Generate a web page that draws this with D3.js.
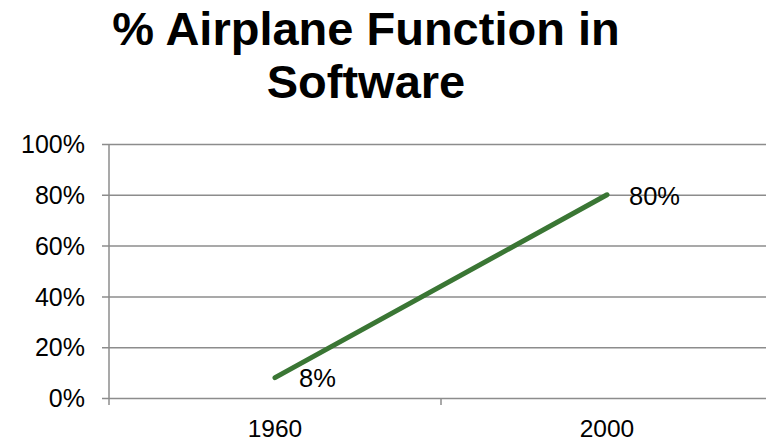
<!DOCTYPE html>
<html>
<head>
<meta charset="utf-8">
<script src="https://cdn.jsdelivr.net/npm/d3@7/dist/d3.min.js"></script>
<style>
  html, body { margin: 0; padding: 0; background: #fff; }
  svg { display: block; font-family: "Liberation Sans", Arial, sans-serif; }
</style>
</head>
<body>
<svg id="chart" width="766" height="443"></svg>
<script>
(function () {
  "use strict";

  const titleLines = ["% Airplane Function in", "Software"];
  const years = ["1960", "2000"];
  const share = [0.08, 0.80];
  const yTicks = [0, 0.2, 0.4, 0.6, 0.8, 1.0];

  const svg = d3.select("#chart");
  const W = 766;
  const axisX = 109;

  // plot area runs past the right edge, the second band is cut off
  const x = d3.scaleBand().domain(years).range([axisX, 773]).padding(0);
  const y = d3.scaleLinear().domain([0, 1]).range([398, 144]);
  const fmt = d3.format(".0%");

  // title
  svg.append("g").selectAll("text")
    .data(titleLines)
    .join("text")
    .attr("x", 366)
    .attr("y", (d, i) => 45 + i * 53)
    .attr("text-anchor", "middle")
    .attr("font-weight", "bold")
    .attr("font-size", 47)
    .attr("fill", "#000")
    .text((d) => d);

  // gridlines + y labels
  const yAxis = d3.axisLeft(y)
    .tickValues(yTicks)
    .tickFormat(fmt)
    .tickSize(-(W - axisX))
    .tickPadding(16);
  const gy = svg.append("g").attr("transform", `translate(${axisX},0)`).call(yAxis);
  gy.select(".domain").remove();
  gy.selectAll(".tick line")
    .attr("x1", -7)
    .attr("stroke", "#8c8c8c")
    .attr("stroke-width", 1.5);
  gy.selectAll(".tick text")
    .attr("font-size", 25)
    .attr("font-family", "Liberation Sans, Arial, sans-serif")
    .attr("fill", "#000")
    .attr("x", -24)
    .attr("dy", "0.35em");

  // vertical axis line
  svg.append("line")
    .attr("x1", axisX).attr("x2", axisX)
    .attr("y1", y(1)).attr("y2", y(0) + 7)
    .attr("stroke", "#8c8c8c").attr("stroke-width", 1.5);

  // x axis tick marks between categories
  const bounds = x.domain().slice(1).map((d) => x(d));
  svg.append("g").selectAll("line")
    .data(bounds)
    .join("line")
    .attr("x1", (d) => d).attr("x2", (d) => d)
    .attr("y1", y(0)).attr("y2", y(0) + 7)
    .attr("stroke", "#8c8c8c").attr("stroke-width", 1.5);

  svg.append("g").selectAll("text")
    .data(years)
    .join("text")
    .attr("x", (d) => x(d) + x.bandwidth() / 2)
    .attr("y", 437)
    .attr("text-anchor", "middle")
    .attr("font-size", 24.5)
    .attr("fill", "#000")
    .text((d) => d);

  // series line
  const pts = years.map((d, i) => ({ year: d, v: share[i] }));
  const line = d3.line()
    .x((d) => x(d.year) + x.bandwidth() / 2)
    .y((d) => y(d.v));
  svg.append("path")
    .datum(pts)
    .attr("d", line)
    .attr("fill", "none")
    .attr("stroke", "#3a7634")
    .attr("stroke-width", 5)
    .attr("stroke-linecap", "round");

  // data labels
  svg.append("g").selectAll("text")
    .data(pts)
    .join("text")
    .attr("x", (d) => x(d.year) + x.bandwidth() / 2 + (d.v > 0.5 ? 22 : 24))
    .attr("y", (d) => y(d.v) + (d.v > 0.5 ? 10 : 9))
    .attr("font-size", 25.5)
    .attr("fill", "#000")
    .text((d) => fmt(d.v));
})();
</script>
</body>
</html>
